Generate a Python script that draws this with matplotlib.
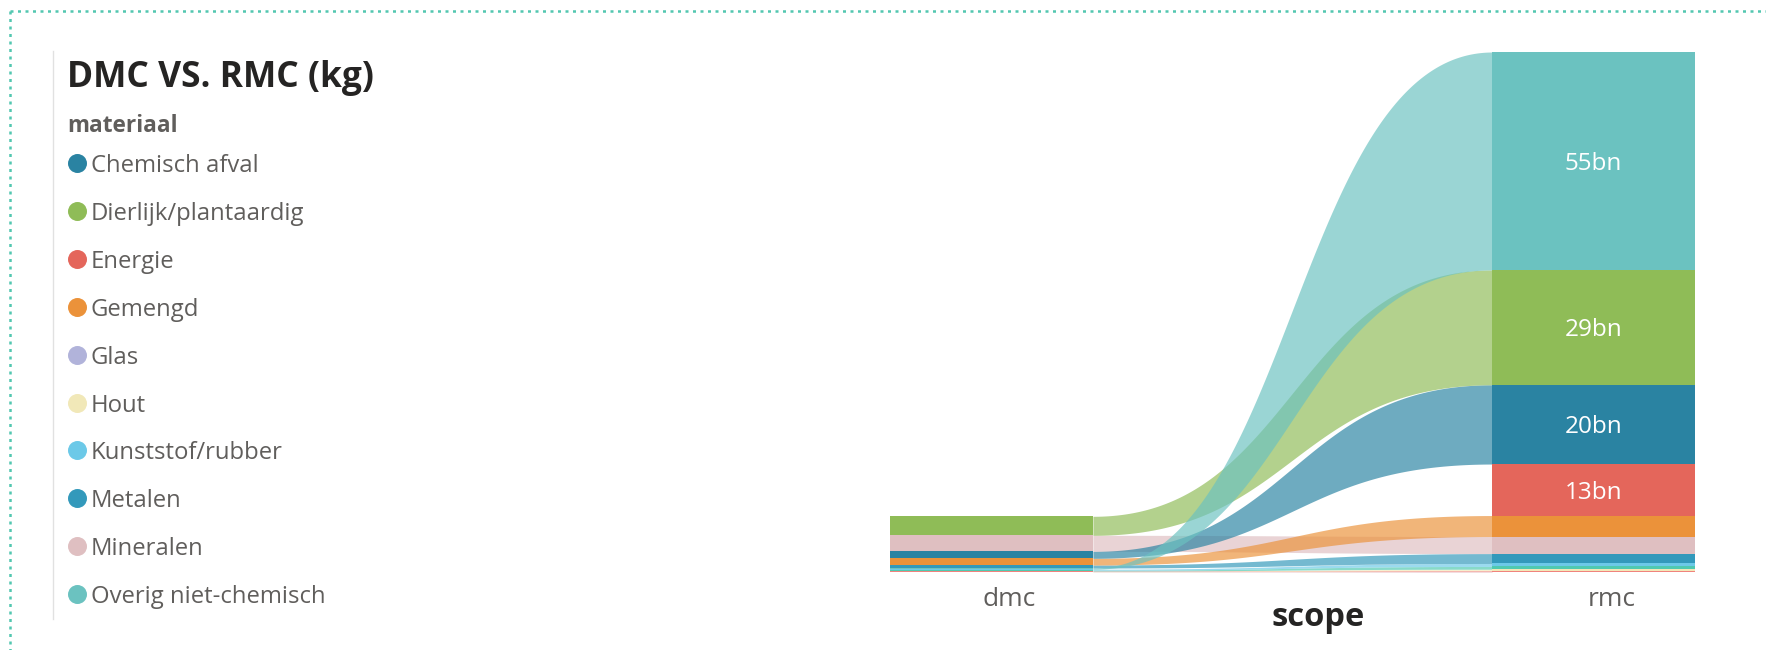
import numpy as np
import matplotlib.pyplot as plt
from matplotlib.transforms import ScaledTranslation

plt.rcParams['font.family'] = ['Open Sans', 'DejaVu Sans']

# materials, in legend order (the legend box only has room for the first ten)
materials = ['Chemisch afval', 'Dierlijk/plantaardig', 'Energie', 'Gemengd', 'Glas',
             'Hout', 'Kunststof/rubber', 'Metalen', 'Mineralen', 'Overig niet-chemisch',
             'Papier/karton', 'Textiel']
colors = ['#2a83a2', '#8fbc57', '#e4665b', '#eb923a', '#b1b3da',
          '#f1e8b8', '#6cc9e8', '#3399bb', '#dfbfc1', '#6bc2c0',
          '#4fc9b0', '#f0837d']
n_legend = 10

scopes = ['dmc', 'rmc']
# values in billion kg
dmc = [1.75, 4.8, 0.0, 1.7, 0.03, 0.05, 0.25, 0.75, 4.05, 0.3, 0.2, 0.18]
rmc = [20.0, 29.0, 13.0, 5.3, 0.05, 0.35, 0.75, 2.5, 4.3, 55.0, 0.7, 0.3]

W, H = 1766, 650
fig = plt.figure(figsize=(W / 100, H / 100), dpi=100)


def px_box(left, top, right, bottom):
    return [left / W, 1 - bottom / H, (right - left) / W, (bottom - top) / H]


def stack(values):
    # ribbon chart ranking: largest value on top, smallest at the bottom
    values = np.asarray(values, float)
    bottoms = np.zeros_like(values)
    cum = 0.0
    for i in np.argsort(values, kind='stable'):
        bottoms[i] = cum
        cum += values[i]
    return bottoms


ax = fig.add_axes(px_box(850, 52, 1735, 572))
ax.patch.set_alpha(0)

cols = np.array([dmc, rmc], float)
bots = np.array([stack(dmc), stack(rmc)])
bar_w = 0.337
xpos = np.arange(len(scopes))

# ribbons between the two columns (s-curve with flat ends)
x0 = xpos[0] + bar_w / 2
x1 = xpos[1] - bar_w / 2
t = np.linspace(0, 1, 200)
xs = (1 - t) ** 3 * x0 + 3 * (1 - t) ** 2 * t * (x0 + x1) / 2 + 3 * (1 - t) * t ** 2 * (x0 + x1) / 2 + t ** 3 * x1
ease = 3 * t ** 2 - 2 * t ** 3
for i in np.argsort(rmc, kind='stable'):
    if cols[0, i] <= 0 or cols[1, i] <= 0:
        continue
    lo = bots[0, i] + (bots[1, i] - bots[0, i]) * ease
    hi = bots[0, i] + cols[0, i] + (bots[1, i] + cols[1, i] - bots[0, i] - cols[0, i]) * ease
    ax.fill_between(xs, lo, hi, color=colors[i], alpha=0.68, lw=0, zorder=1)

# stacked columns
for j in range(len(scopes)):
    for i in range(len(materials)):
        if cols[j, i] <= 0:
            continue
        ax.bar(xpos[j], cols[j, i], bottom=bots[j, i], width=bar_w,
               color=colors[i], lw=0, zorder=2)
        if cols[j, i] >= 10:
            ax.text(xpos[j], bots[j, i] + cols[j, i] / 2, f'{cols[j, i]:.0f}bn',
                    ha='center', va='center_baseline', color='white', fontsize=17.5, zorder=3)

ax.set_xlim(-0.235, 1.235)
ax.set_ylim(0, cols.sum(axis=1).max())
ax.set_xticks(xpos, scopes)
ax.set_yticks([])
ax.tick_params(axis='x', length=0, pad=11, labelsize=19, labelcolor='#605e5c')
for lab in ax.get_xticklabels():
    lab.set_transform(lab.get_transform() + ScaledTranslation(0.18, 0, fig.dpi_scale_trans))
for sp in ax.spines.values():
    sp.set_visible(False)
ax.text(0.529, -0.087, 'scope', transform=ax.transAxes, ha='center', va='center',
        fontsize=23.5, fontweight='bold', color='#252423')

# title, legend and frame drawn in pixel coordinates
ov = fig.add_axes([0, 0, 1, 1], zorder=-1)
ov.set_xlim(0, W)
ov.set_ylim(H, 0)
ov.axis('off')

ov.plot([10, W], [11, 11], color='#52c7b0', lw=1.8, ls=(0, (1.2, 1.8)), solid_capstyle='butt')
ov.plot([10, 10], [11, H], color='#52c7b0', lw=1.8, ls=(0, (1.2, 1.8)), solid_capstyle='butt')
ov.plot([53, 53], [51, 619], color='#e1e1e1', lw=1)

ov.text(67, 87, 'DMC VS. RMC (kg)', fontsize=25.5, fontweight='bold', color='#252423', va='baseline')
ov.text(67, 132, 'materiaal', fontsize=16.3, fontweight='bold', color='#605e5c', va='baseline')
for k in range(n_legend):
    y = 163 + 47.9 * k
    ov.scatter(76.5, y, s=187, color=colors[k], lw=0)
    ov.text(91, y + 9, materials[k], fontsize=17.2, color='#605e5c', va='baseline')

fig.savefig('out.png', dpi=100)
